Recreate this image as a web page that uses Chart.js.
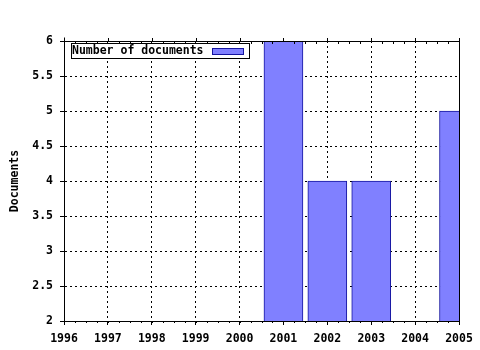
<!DOCTYPE html>
<html><head><meta charset="utf-8">
<script src="https://cdn.jsdelivr.net/npm/chart.js@4/dist/chart.umd.min.js"></script>
<style>html,body{margin:0;padding:0;background:#fff}#wrap{width:480px;height:350px}</style>
</head><body><div id="wrap"><canvas id="c" width="480" height="350"></canvas></div>
<script>
const years = [2001, 2002, 2003, 2005];
const documents = [6, 4, 4, 5];
const xTickValues = [1996, 1997, 1998, 1999, 2000, 2001, 2002, 2003, 2004, 2005];
const yTickValues = [2, 2.5, 3, 3.5, 4, 4.5, 5, 5.5, 6];
const seriesLabel = 'Number of documents';
const yAxisTitle = 'Documents';

const FONT = {family: '"DejaVu Sans Mono", "Liberation Mono", monospace', size: 11.5, weight: 'bold'};
const fontStr = 'bold 11.5px "DejaVu Sans Mono", "Liberation Mono", monospace';

const framePlugin = {
  id: 'frame',
  afterDatasetsDraw(chart) {
    const {ctx, chartArea: a, scales: {x}} = chart;
    ctx.save();
    ctx.strokeStyle = '#000';
    ctx.lineWidth = 1;
    ctx.setLineDash([]);
    const L = Math.round(a.left) + 0.5, T = Math.round(a.top) + 0.5;
    ctx.strokeRect(L, T, Math.round(a.right - a.left), Math.round(a.bottom - a.top));
    ctx.beginPath();
    ctx.moveTo(L, T - 4); ctx.lineTo(L, T);
    const first = xTickValues[0], last = xTickValues[xTickValues.length - 1];
    for (let v = first; v <= last + 1e-9; v += 0.25) {
      const px = Math.round(x.getPixelForValue(v)) + 0.5;
      const major = Math.abs(v - Math.round(v)) < 1e-9;
      ctx.moveTo(px, Math.round(a.bottom));
      ctx.lineTo(px, Math.round(a.bottom) + 2);
      if (major) {
        ctx.moveTo(px, Math.round(a.top) - 3);
        ctx.lineTo(px, Math.round(a.top) + 1);
      } else {
        ctx.moveTo(px, Math.round(a.top));
        ctx.lineTo(px, Math.round(a.top) + 3);
      }
    }
    ctx.stroke();
    ctx.restore();
  },
  afterDraw(chart) {
    const {ctx, chartArea: a} = chart;
    const ds = chart.data.datasets[0];
    ctx.save();
    const bx = a.left + 7, by = a.top + 2, bw = 178, bh = 15;
    ctx.fillStyle = '#fff';
    ctx.fillRect(bx, by, bw, bh);
    ctx.strokeStyle = '#000';
    ctx.lineWidth = 1;
    ctx.strokeRect(Math.round(bx) + 0.5, Math.round(by) + 0.5, bw, bh);
    ctx.font = fontStr;
    ctx.fillStyle = '#000';
    ctx.textBaseline = 'middle';
    ctx.textAlign = 'left';
    ctx.fillText(ds.label, bx + 1, by + bh / 2 + 1);
    ctx.fillStyle = ds.backgroundColor;
    ctx.fillRect(bx + 141, by + 5, 31, 6);
    ctx.strokeStyle = ds.borderColor;
    ctx.strokeRect(Math.round(bx + 141) + 0.5, Math.round(by + 5) + 0.5, 31, 6);
    ctx.restore();
  }
};

new Chart(document.getElementById('c'), {
  type: 'bar',
  data: {
    datasets: [{
      label: seriesLabel,
      data: years.map((x, i) => ({x: x, y: documents[i]})),
      backgroundColor: '#8080ff',
      borderColor: '#1414a0',
      borderWidth: 1,
      borderSkipped: false,
      barThickness: 39,
      clip: 0
    }]
  },
  options: {
    responsive: false,
    animation: false,
    devicePixelRatio: 1,
    layout: {padding: {left: 0, right: 21, top: 41, bottom: 0}},
    plugins: {legend: {display: false}, tooltip: {enabled: false}},
    scales: {
      x: {
        type: 'linear',
        min: 1996, max: 2005,
        offset: false,
        afterBuildTicks: s => { s.ticks = xTickValues.map(v => ({value: v})); },
        afterFit: s => { s.height = 29; },
        ticks: {color: '#000', font: FONT, padding: 7, maxRotation: 0, autoSkip: false,
          callback: v => String(v)},
        grid: {color: '#000', offset: false, tickLength: 4, tickColor: '#000', tickBorderDash: []},
        border: {display: true, color: '#000', width: 1, dash: [2, 3]}
      },
      y: {
        min: 2, max: 6,
        afterBuildTicks: s => { s.ticks = yTickValues.map(v => ({value: v})); },
        afterFit: s => { s.width = 64; },
        ticks: {color: '#000', font: FONT, padding: 7, callback: v => String(v)},
        grid: {color: '#000', tickLength: 4, tickColor: '#000', tickBorderDash: []},
        border: {display: true, color: '#000', width: 1, dash: [2, 3]},
        title: {display: true, text: yAxisTitle, color: '#000', font: FONT, padding: {top: 8, bottom: 0}}
      }
    }
  },
  plugins: [framePlugin]
});
</script></body></html>
